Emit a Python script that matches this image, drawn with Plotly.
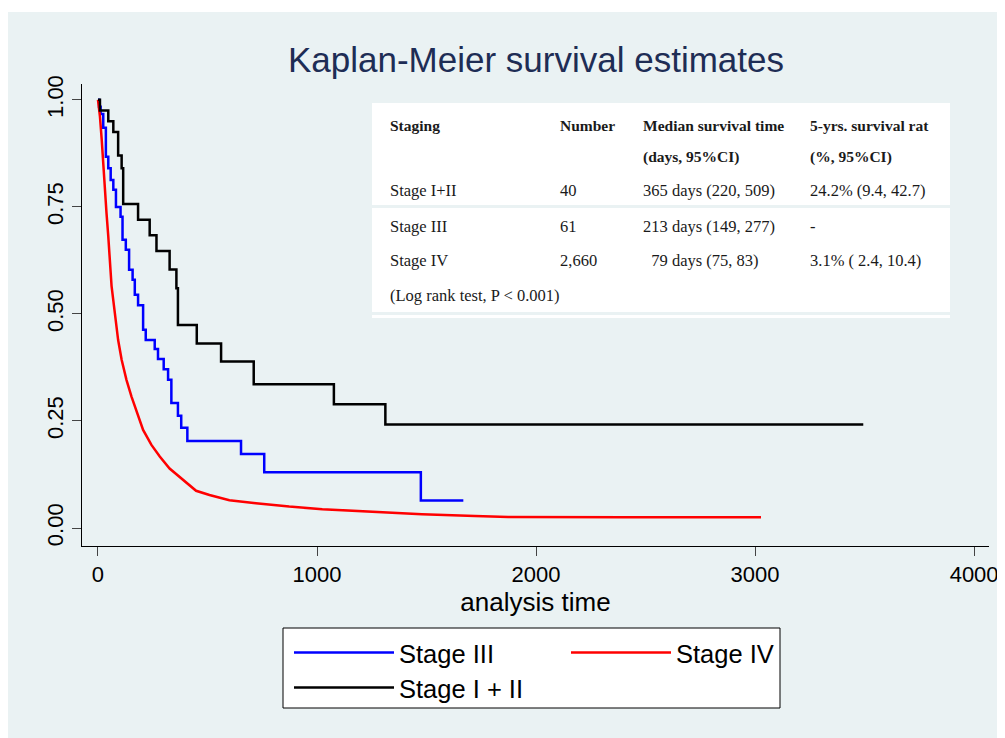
import plotly.graph_objects as go

# ---- data ----
stage12_t = [0, 9, 47, 70, 92, 108, 115, 183, 236, 267, 327, 358, 365, 451, 562, 711, 1077, 1312, 3494]
stage12_s = [1.0, 0.975, 0.95, 0.925, 0.87, 0.84, 0.757, 0.72, 0.684, 0.647, 0.604, 0.56, 0.474,
             0.431, 0.389, 0.336, 0.289, 0.242, 0.242]

stage3_t = [0, 5, 12, 24, 36, 47, 58, 70, 82, 103, 112, 127, 142, 158, 168, 183, 206, 218, 259,
            274, 300, 320, 335, 365, 380, 408, 653, 759, 1474, 1668]
stage3_s = [1.0, 0.984, 0.967, 0.935, 0.867, 0.84, 0.813, 0.79, 0.75, 0.727, 0.673, 0.65, 0.603,
            0.58, 0.545, 0.52, 0.463, 0.439, 0.418, 0.395, 0.371, 0.346, 0.292, 0.262, 0.234,
            0.203, 0.173, 0.130, 0.064, 0.064]

stage4_t = [0, 9, 17, 24, 32, 39, 47, 55, 62, 77, 92, 108, 130, 153, 176, 206, 244, 282, 327,
            373, 418, 448, 509, 600, 721, 873, 1024, 1236, 1479, 1721, 1873, 2410, 3027]
stage4_s = [1.0, 0.961, 0.907, 0.844, 0.79, 0.735, 0.681, 0.618, 0.565, 0.502, 0.439, 0.393,
            0.346, 0.307, 0.272, 0.229, 0.194, 0.167, 0.139, 0.120, 0.100, 0.087, 0.077, 0.065,
            0.058, 0.050, 0.044, 0.038, 0.032, 0.028, 0.026, 0.025, 0.025]

x_ticks = [0, 1000, 2000, 3000, 4000]
y_ticks = [0, 0.25, 0.5, 0.75, 1.0]
y_tick_labels = ["0.00", "0.25", "0.50", "0.75", "1.00"]

table_header1 = ["Staging", "Number", "Median survival time", "5-yrs. survival rat"]
table_header2 = ["", "", "(days, 95%CI)", "(%, 95%CI)"]
table_rows = [
    ["Stage I+II", "40", "365 days (220, 509)", "24.2% (9.4, 42.7)"],
    ["Stage III", "61", "213 days (149, 277)", "-"],
    ["Stage IV", "2,660", "  79 days (75, 83)", "3.1% ( 2.4, 10.4)"],
]
table_note = "(Log rank test, P < 0.001)"

# ---- layout geometry ----
# The page body has an 8px margin, so the figure is placed at (8, 8) in the window.
OFF = 8
W, H = 1005 - OFF, 738 - OFF
PL, PR, PT, PB = 82, 989, 84, 546          # plot area edges in window pixels
ML, MT = PL - OFF, PT - OFF
MR = W - (PR - OFF)
MB = H - (PB - OFF)
PW = PR - PL
PH = PB - PT


def px(xp):
    return (xp - PL) / PW


def py(yp):
    return (PB - yp) / PH


BG = "#eaf2f3"

fig = go.Figure()

fig.add_trace(go.Scatter(x=stage3_t, y=stage3_s, mode="lines", name="Stage III", showlegend=True,
                         line=dict(color="#0000ff", width=2.5, shape="hv"), legend="legend"))
fig.add_trace(go.Scatter(x=stage4_t, y=stage4_s, mode="lines", name="Stage IV", showlegend=True,
                         line=dict(color="#ff0000", width=2.5), legend="legend3"))
fig.add_trace(go.Scatter(x=stage12_t, y=stage12_s, mode="lines", name="Stage I + II", showlegend=True,
                         line=dict(color="#000000", width=2.5, shape="hv"), legend="legend2"))

shapes = []
# outer grey graph region
shapes.append(dict(type="rect", xref="paper", yref="paper", x0=px(8), x1=px(1020), y0=py(760), y1=py(12),
                   fillcolor=BG, line=dict(width=0), layer="below"))
# legend frame
shapes.append(dict(type="rect", xref="paper", yref="paper", x0=px(283), x1=px(780), y0=py(708), y1=py(628),
                   fillcolor="white", line=dict(color="#000000", width=1), layer="below"))
# white box of the inset table (covers grid lines)
shapes.append(dict(type="rect", xref="paper", yref="paper", x0=px(372), x1=px(950), y0=py(318), y1=py(103),
                   fillcolor="white", line=dict(width=0), layer="below"))

annotations = []
col_x = [388, 558, 641, 808]
row_y = [125, 157, 190, 226, 261, 295]
serif = "Liberation Serif, Times New Roman, serif"
font_bold = dict(family=serif, size=15.5, color="#1a1a1a")
font_reg = dict(family=serif, size=16.5, color="#1a1a1a")


def cell(text, xp, yp, bold=False):
    if not text:
        return
    txt = text.replace(" ", "&nbsp;") if text.startswith(" ") else text
    annotations.append(dict(text=("<b>%s</b>" % txt) if bold else txt,
                            xref="paper", yref="paper", x=px(xp), y=py(yp),
                            xanchor="left", yanchor="middle", showarrow=False,
                            font=font_bold if bold else font_reg))


for j, t in enumerate(table_header1):
    cell(t, col_x[j], row_y[0], bold=True)
for j, t in enumerate(table_header2):
    cell(t, col_x[j], row_y[1], bold=True)
for i, row in enumerate(table_rows):
    for j, t in enumerate(row):
        cell(t, col_x[j], row_y[2 + i])
cell(table_note, col_x[0], row_y[5])

leg_font = dict(family="Liberation Sans, Arial, sans-serif", size=25.5, color="#000000")


def legend_at(line_x, yp):
    # the legend's line sample starts ~4px right of the legend anchor
    return dict(orientation="h", x=px(line_x - 4), y=py(yp), xanchor="left", yanchor="middle",
                bgcolor="rgba(0,0,0,0)", borderwidth=0, itemwidth=100, font=leg_font)


fig.update_layout(
    width=W, height=H,
    margin=dict(l=ML, r=MR, t=MT, b=MB, autoexpand=False),
    paper_bgcolor="white",
    plot_bgcolor="white",
    showlegend=True,
    title=dict(text="Kaplan-Meier survival estimates", x=px(536), xref="paper", xanchor="center",
               y=1 - (60 - OFF) / H, yref="container", yanchor="middle",
               font=dict(family="Liberation Sans, Arial, sans-serif", size=35, color="#1e2d55")),
    font=dict(family="Liberation Sans, Arial, sans-serif", color="#000000"),
    xaxis=dict(range=[-73, 4068], tickvals=x_ticks, showgrid=False, zeroline=False,
               showline=True, linecolor="#000000", linewidth=1,
               ticks="outside", ticklen=9, tickcolor="#444444", tickwidth=1,
               tickfont=dict(size=22, color="#000000"),
               title=dict(text="analysis time", font=dict(size=26, color="#000000"), standoff=0)),
    yaxis=dict(range=[-0.042, 1.037], tickvals=y_ticks, ticktext=y_tick_labels, tickangle=-90,
               showgrid=True, gridcolor=BG, gridwidth=2.5, zeroline=False,
               showline=True, linecolor="#000000", linewidth=1,
               ticks="outside", ticklen=9, tickcolor="#444444", tickwidth=1,
               tickfont=dict(size=22, color="#000000")),
    legend=legend_at(293, 653),
    legend3=legend_at(570, 653),
    legend2=legend_at(293, 688),
    shapes=shapes,
    annotations=annotations,
)

fig.write_html("out.html")
